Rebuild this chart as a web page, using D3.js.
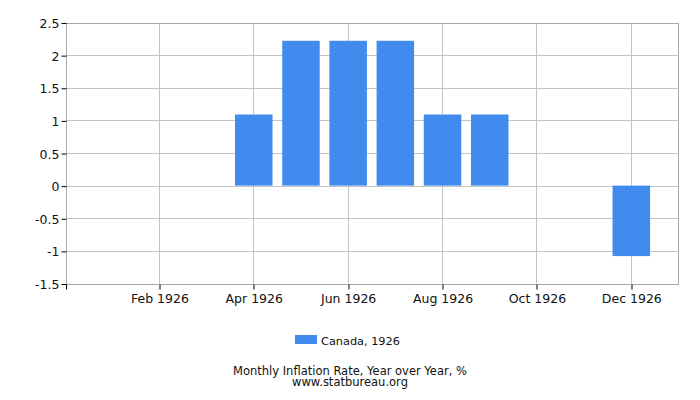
<!DOCTYPE html>
<html>
<head>
<meta charset="UTF-8">
<title>Canada inflation 1926</title>
<script src="https://d3js.org/d3.v7.min.js"></script>
<style>
  body {margin:0; background:#fff;}
  text {font-family:"DejaVu Sans", sans-serif; fill:#111;}
  .grid line {stroke:#c4c4c4;}
</style>
</head>
<body>
<div id="chart"></div>
<script>
  var months = ["Jan 1926","Feb 1926","Mar 1926","Apr 1926","May 1926","Jun 1926",
                "Jul 1926","Aug 1926","Sep 1926","Oct 1926","Nov 1926","Dec 1926"];
  var values = [null, null, null, 1.09, 2.22, 2.22, 2.22, 1.09, 1.09, null, null, -1.08];
  var yTicks = [2.5, 2, 1.5, 1, 0.5, 0, -0.5, -1, -1.5];
  var xLabels = ["Feb 1926","Apr 1926","Jun 1926","Aug 1926","Oct 1926","Dec 1926"];

  var W = 700, H = 400;
  var plotL = 66, plotR = 678, plotT = 22.5, plotB = 283.5;
  var barW = 37.5;

  var svg = d3.select("#chart").append("svg")
      .attr("width", W).attr("height", H);

  // month centres sit one step in from each edge
  var x = d3.scalePoint().domain(months).range([plotL - 1, plotR + 0.5]).padding(1);
  var y = d3.scaleLinear().domain([-1.5, 2.5]).range([plotB, plotT]);

  // grid
  var grid = svg.append("g").attr("class", "grid");
  grid.selectAll(".h").data(yTicks).enter().append("line")
      .attr("x1", plotL).attr("x2", plotR)
      .attr("y1", function(d){ return Math.round(y(d)) + 0.5; })
      .attr("y2", function(d){ return Math.round(y(d)) + 0.5; });
  grid.selectAll(".v").data(xLabels).enter().append("line")
      .attr("y1", plotT).attr("y2", plotB)
      .attr("x1", function(d){ return Math.floor(x(d)) + 0.5; })
      .attr("x2", function(d){ return Math.floor(x(d)) + 0.5; });

  // frame
  svg.append("rect")
      .attr("x", plotL + 0.5).attr("y", Math.round(plotT) + 0.5)
      .attr("width", plotR - plotL).attr("height", Math.round(plotB) - Math.round(plotT))
      .attr("fill", "none").attr("stroke", "#a8a8a8");

  // bars
  svg.append("g").selectAll("rect")
      .data(months.map(function(m, i){ return {m: m, v: values[i]}; })
                  .filter(function(d){ return d.v !== null; }))
      .enter().append("rect")
      .attr("x", function(d){ return x(d.m) - barW / 2; })
      .attr("width", barW)
      .attr("y", function(d){ return y(Math.max(0, d.v)); })
      .attr("height", function(d){ return Math.abs(y(d.v) - y(0)); })
      .attr("fill", "#418bee");

  // y axis
  var yAxis = d3.axisLeft(y).tickValues(yTicks).tickSize(5).tickPadding(2)
      .tickFormat(function(d){ return String(d); });
  var gy = svg.append("g").attr("transform", "translate(" + (plotL + 0.5) + ",0.5)").call(yAxis);
  gy.select(".domain").remove();
  gy.selectAll("line").attr("stroke", "#000");
  gy.selectAll("text").style("font-size", "12.5px").attr("dy", "0.36em");

  // x axis
  var xAxis = d3.axisBottom(x).tickValues(xLabels).tickSize(5).tickPadding(5);
  var gx = svg.append("g").attr("transform", "translate(0," + (Math.round(plotB) + 0.5) + ")").call(xAxis);
  gx.select(".domain").remove();
  gx.selectAll("line").attr("stroke", "#000")
      .attr("x1", function(d){ return Math.floor(x(d)) + 0.5 - x(d); })
      .attr("x2", function(d){ return Math.floor(x(d)) + 0.5 - x(d); });
  gx.append("line").attr("x1", plotL + 0.5).attr("x2", plotL + 0.5).attr("y1", 0).attr("y2", 5).attr("stroke", "#000");
  gx.selectAll("text").style("font-size", "12.5px");

  // legend
  svg.append("rect").attr("x", 295).attr("y", 335).attr("width", 22).attr("height", 9)
      .attr("fill", "#418bee");
  svg.append("text").attr("x", 321).attr("y", 345).style("font-size", "11.3px")
      .text("Canada, 1926");

  // captions
  svg.append("text").attr("x", 350).attr("y", 375).attr("text-anchor", "middle")
      .style("font-size", "11.5px").text("Monthly Inflation Rate, Year over Year, %");
  svg.append("text").attr("x", 350).attr("y", 385.5).attr("text-anchor", "middle")
      .style("font-size", "11.5px").text("www.statbureau.org");
</script>
</body>
</html>
